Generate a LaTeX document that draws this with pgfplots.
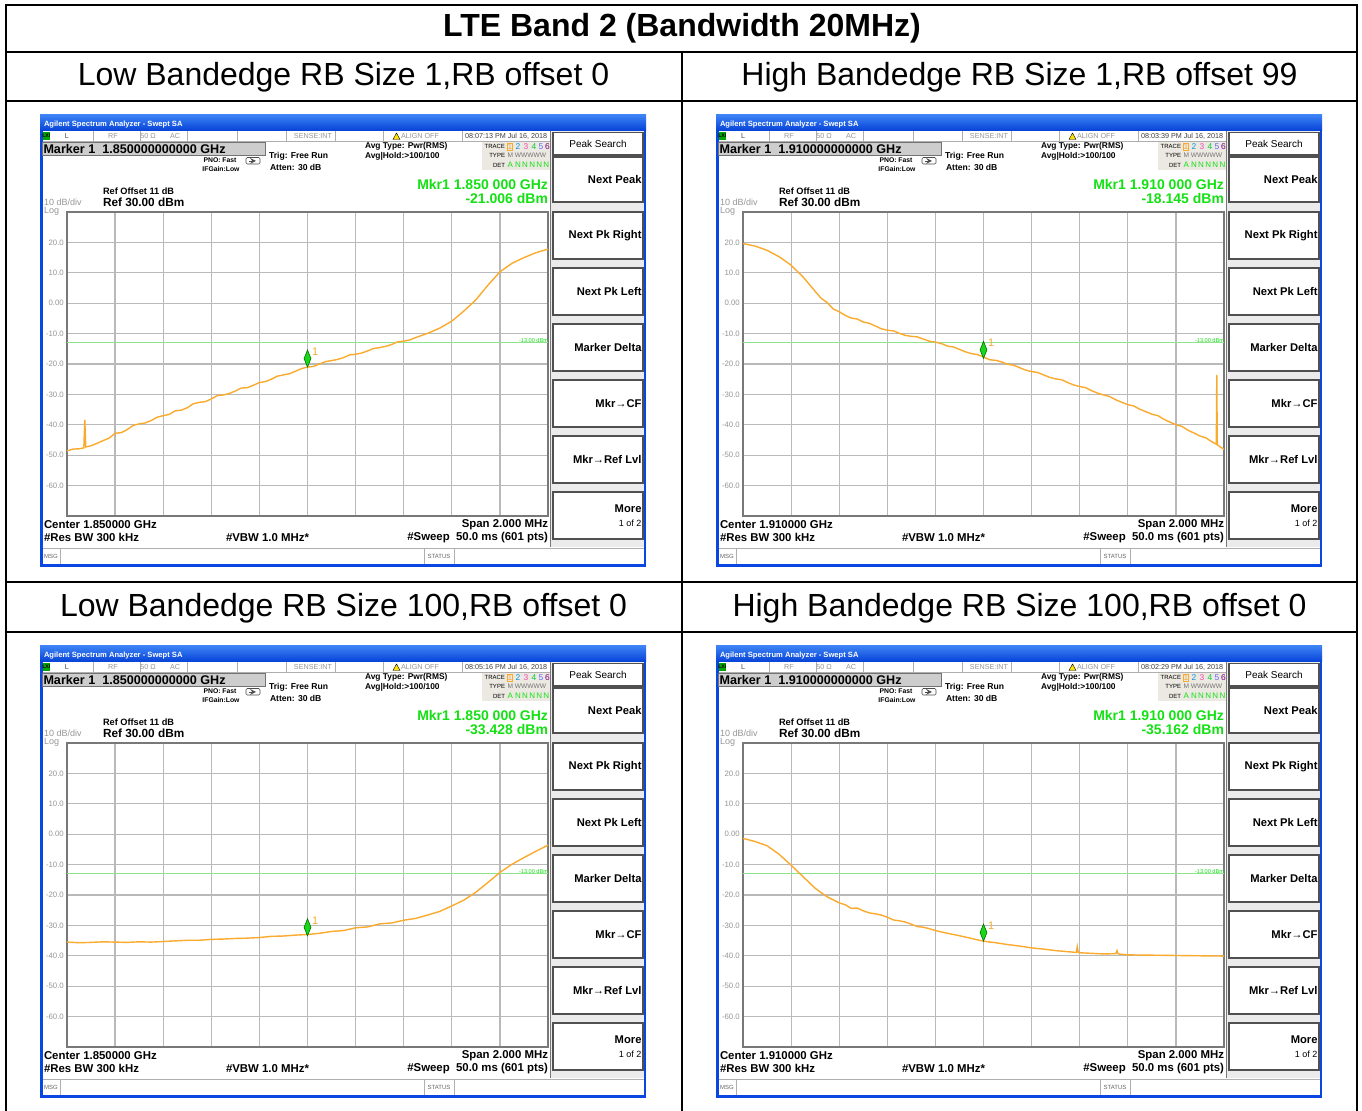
\documentclass[border=0pt]{standalone}
\usepackage{pgfplots}
\pgfplotsset{compat=1.18}
\usepackage{fontspec}
\setmainfont{Liberation Sans}
\definecolor{trace}{RGB}{250,170,45}
\definecolor{limgreen}{RGB}{140,228,140}
\definecolor{mkgreen}{RGB}{25,215,25}
\definecolor{mkdark}{RGB}{0,110,0}
\definecolor{txgreen}{RGB}{20,225,20}
\definecolor{gridgray}{RGB}{185,185,185}
\definecolor{framegray}{RGB}{120,120,120}
\definecolor{labgray}{RGB}{150,150,150}
\definecolor{winblue}{RGB}{10,70,225}
\definecolor{bartop}{RGB}{60,130,245}
\definecolor{barbot}{RGB}{5,65,215}
\definecolor{rowgray}{RGB}{175,175,175}
\definecolor{mkrbox}{RGB}{205,205,205}
\definecolor{btnedge}{RGB}{80,80,80}
\definecolor{menubg}{RGB}{235,235,235}
\definecolor{tracebox}{RGB}{236,233,226}
\newcommand\fs[1]{\fontsize{#1}{#1}\selectfont}
\tikzset{t/.style={inner sep=0pt,outer sep=0pt}}
\pgfplotsset{sa/.style={
  scale only axis, width=240.5pt, height=152pt, anchor=north west,
  ymin=-70, ymax=30, ytick={-60,-50,...,20},
  yticklabels={-60.0,-50.0,-40.0,-30.0,-20.0,-10.0,0.00,10.0,20.0},
  xticklabel=\empty,
  grid=major, major grid style={gridgray,line width=0.6pt},
  axis line style={framegray,line width=1pt},
  major tick length=0pt,
  yticklabel style={font=\fs{3.9},text=labgray,inner sep=0pt,xshift=-1.4pt},
  clip=false}}
\newcommand\btn[3]{\draw[btnedge,line width=0.55pt,fill=white] (513,#1) rectangle (603,#2);
  \node[t,anchor=east,font=\fs{5.6}\bfseries] at (601.5,{(#1+#2)/2}) {#3};}
\newcommand\panel[7]{%
\begin{scope}[shift={(#1,#2)}]
\fill[winblue] (0,0) rectangle (606,452);
\shade[top color=bartop,bottom color=barbot] (0,0) rectangle (606,16);
\fill[white] (2.5,16) rectangle (603.5,449.5);
\node[t,anchor=west,text=white,font=\fs{3.8}\bfseries] at (4,9.5) {Agilent Spectrum Analyzer - Swept SA};
\draw[rowgray,line width=0.3pt] (2.5,26)--(512,26);
\foreach \sx in {53,100,147,197,246,295,343,422}{\draw[rowgray,line width=0.3pt] (\sx,16)--(\sx,26);}
\fill[green!65!black] (2.5,17) rectangle (10,25);
\node[t,font=\fs{2.6}\bfseries] at (6.3,21) {LXI};
\node[t,font=\fs{3.6},text=black!70] at (27,21.3) {L};
\node[t,font=\fs{3.6},text=labgray] at (73,21.3) {RF};
\node[t,font=\fs{3.6},text=labgray] at (108,21.3) {50 Ω};
\node[t,font=\fs{3.6},text=labgray] at (135,21.3) {AC};
\node[t,anchor=east,font=\fs{3.6},text=labgray] at (292,21.3) {SENSE:INT};
\filldraw[fill=yellow!85!orange,draw=black,line width=0.2pt] (353,24.5)--(356.5,18)--(360,24.5)--cycle;
\node[t,anchor=west,font=\fs{3.6},text=labgray] at (361,21.3) {ALIGN OFF};
\node[t,anchor=west,font=\fs{3.6},text=black!75] at (425,21.3) {#7 Jul 16, 2018};
% marker box
\draw[black!55,fill=mkrbox,line width=0.4pt] (2,27.5) rectangle (225,40);
\node[t,anchor=west,font=\fs{6.3}\bfseries] at (3.5,34) {Marker 1\ \ #3 GHz};
\node[t,font=\fs{3.4}\bfseries] at (180,45) {PNO: Fast};
\node[t,font=\fs{3.4}\bfseries] at (181,54) {IFGain:Low};
\draw[black!70,line width=0.3pt,rounded corners=0.6pt] (206,42.5) rectangle (220,49);
\draw[black!70,line width=0.3pt,-stealth] (209,46)--(216,46);
\node[t,anchor=west,font=\fs{4.3}\bfseries] at (229,41.5) {Trig: Free Run};
\node[t,anchor=west,font=\fs{4.3}\bfseries] at (230,52.5) {Atten: 30 dB};
\node[t,anchor=west,font=\fs{4.2}\bfseries] at (325,31.5) {Avg Type: Pwr(RMS)};
\node[t,anchor=west,font=\fs{4.2}\bfseries] at (325,41.5) {Avg|Hold:>100/100};
% trace box
\fill[tracebox] (442,27) rectangle (510,55);
\node[t,anchor=east,font=\fs{3}] at (465,31.5) {TRACE};
\node[t,anchor=east,font=\fs{3}] at (465,40.5) {TYPE};
\node[t,anchor=east,font=\fs{3}] at (465,50) {DET};
\draw[trace,line width=0.3pt] (467.5,28) rectangle (472.5,35);
\node[t,font=\fs{4.2},text=trace] at (470,31.5) {1};
\node[t,font=\fs{4.2},text=cyan!80!blue] at (478,31.5) {2};
\node[t,font=\fs{4.2},text=magenta!70] at (486,31.5) {3};
\node[t,font=\fs{4.2},text=green!60!teal] at (494,31.5) {4};
\node[t,font=\fs{4.2},text=blue!60] at (501,31.5) {5};
\node[t,font=\fs{4.2},text=violet] at (507.5,31.5) {6};
\node[t,anchor=west,font=\fs{3.3},text=black!55] at (467.5,40.5) {M WWWWW};
\node[t,anchor=west,font=\fs{4},text=txgreen] at (467.5,50) {A\ N\,N\,N\,N\,N};
% ref texts
\node[t,anchor=west,font=\fs{4.6}\bfseries] at (63,76) {Ref Offset 11 dB};
\node[t,anchor=west,font=\fs{4.5},text=labgray] at (4,87.5) {10 dB/div};
\node[t,anchor=west,font=\fs{5.9}\bfseries] at (63,87.5) {Ref 30.00 dBm};
\node[t,anchor=west,font=\fs{4.5},text=labgray] at (4,96) {Log};
\node[t,anchor=east,font=\fs{7}\bfseries,text=txgreen] at (508,70) {Mkr1 #5 GHz};
\node[t,anchor=east,font=\fs{7}\bfseries,text=txgreen] at (508,84) {#6 dBm};
% bottom texts
\node[t,anchor=west,font=\fs{5.7}\bfseries] at (4,410) {Center #4 GHz};
\node[t,anchor=west,font=\fs{5.7}\bfseries] at (4,422.5) {\#Res BW 300 kHz};
\node[t,anchor=west,font=\fs{5.7}\bfseries] at (186,422.5) {\#VBW 1.0 MHz*};
\node[t,anchor=east,font=\fs{5.7}\bfseries] at (508,410) {Span 2.000 MHz};
\node[t,anchor=east,font=\fs{5.7}\bfseries] at (508,422.5) {\#Sweep\ \ 50.0 ms (601 pts)};
% msg bar
\draw[rowgray,line width=0.4pt] (2.5,433)--(603.5,433);
\foreach \sx in {20,384,414}{\draw[rowgray,line width=0.3pt] (\sx,433)--(\sx,449.5);}
\node[t,font=\fs{3},text=black!60] at (11,441) {MSG};
\node[t,font=\fs{3},text=black!60] at (399,441) {STATUS};
% menu
\fill[menubg] (510.5,16) rectangle (603.5,432);
\draw[framegray,line width=0.5pt] (510.5,16)--(510.5,432);
\draw[btnedge,line width=0.55pt,fill=white] (513,17.5) rectangle (603,40);
\node[t,font=\fs{5}] at (558,28.5) {Peak Search};
\btn{42}{87}{Next Peak}
\btn{97}{144}{Next Pk Right}
\btn{153}{200}{Next Pk Left}
\btn{209}{256}{Marker Delta}
\btn{265}{312}{Mkr→CF}
\btn{321}{368}{Mkr→Ref Lvl}
\draw[btnedge,line width=0.55pt,fill=white] (513,377) rectangle (603,424);
\node[t,anchor=east,font=\fs{5.6}\bfseries] at (601.5,393.5) {More};
\node[t,anchor=east,font=\fs{4.5}] at (601.5,408.5) {1 of 2};
\end{scope}}
\begin{document}
\begin{tikzpicture}[x=0.5pt,y=-0.5pt]
\path[use as bounding box] (0,0) rectangle (1362,1111);
% table
\draw[black,line width=1pt] (5.5,1111)--(5.5,5.5)--(1356.5,5.5)--(1356.5,1111);
\draw[black,line width=1pt] (5.5,52)--(1356.5,52);
\draw[black,line width=1pt] (5.5,101)--(1356.5,101);
\draw[black,line width=1pt] (5.5,582)--(1356.5,582);
\draw[black,line width=1pt] (5.5,632)--(1356.5,632);
\draw[black,line width=1pt] (682,52)--(682,1111);
\node[t,font=\fs{16}\bfseries] at (682,28.5) {LTE Band 2 (Bandwidth 20MHz)};
\node[t,font=\fs{16}] at (343.5,77) {Low Bandedge RB Size 1,RB offset 0};
\node[t,font=\fs{16}] at (1019.5,77) {High Bandedge RB Size 1,RB offset 99};
\node[t,font=\fs{16}] at (343.5,608) {Low Bandedge RB Size 100,RB offset 0};
\node[t,font=\fs{16}] at (1019.5,608) {High Bandedge RB Size 100,RB offset 0};
% panels
\panel{40}{115}{1.850000000000}{1.850000}{1.850 000}{-21.006}{08:07:13 PM}
\panel{716}{115}{1.910000000000}{1.910000}{1.910 000}{-18.145}{08:03:39 PM}
\panel{40}{646}{1.850000000000}{1.850000}{1.850 000}{-33.428}{08:05:16 PM}
\panel{716}{646}{1.910000000000}{1.910000}{1.910 000}{-35.162}{08:02:29 PM}
\coordinate (P1) at (67,212);
\coordinate (P2) at (743,212);
\coordinate (P3) at (67,743);
\coordinate (P4) at (743,743);
% ---------- TL
\begin{axis}[sa,at={(P1)},xmin=1849,xmax=1851,
  xtick={1849.2,1849.4,1849.6,1849.8,1850,1850.2,1850.4,1850.6,1850.8}]
\addplot[limgreen,line width=0.6pt] coordinates {(1849,-13) (1851,-13)};
\node[t,anchor=south east,font=\fs{2.8},text=txgreen,yshift=0.2pt] at (axis cs:1851,-13) {-13.00 dBm};
\addplot[trace,line width=0.7pt] table {
x y
1849.00 -48.6
1849.025 -48.0
1849.05 -47.9
1849.07 -47.6
1849.074 -38.4
1849.078 -47.3
1849.10 -46.9
1849.125 -46.1
1849.15 -45.2
1849.175 -44.4
1849.20 -42.8
1849.225 -42.6
1849.25 -41.6
1849.275 -40.2
1849.30 -39.7
1849.325 -39.4
1849.35 -38.6
1849.375 -37.5
1849.40 -37.0
1849.425 -36.6
1849.45 -35.4
1849.475 -35.2
1849.50 -34.4
1849.525 -33.1
1849.55 -32.6
1849.575 -32.4
1849.60 -31.5
1849.625 -30.4
1849.65 -30.2
1849.675 -29.7
1849.70 -28.9
1849.725 -27.9
1849.75 -27.8
1849.775 -27.0
1849.80 -26.1
1849.825 -25.8
1849.85 -25.0
1849.875 -24.0
1849.90 -23.6
1849.925 -23.2
1849.95 -22.4
1849.975 -21.5
1850.00 -21.0
1850.025 -20.8
1850.05 -20.0
1850.075 -19.2
1850.10 -18.9
1850.125 -18.5
1850.15 -17.9
1850.175 -17.0
1850.20 -16.8
1850.225 -16.4
1850.25 -15.7
1850.275 -14.9
1850.30 -14.6
1850.325 -14.2
1850.35 -13.6
1850.375 -12.7
1850.40 -12.5
1850.425 -12.1
1850.45 -11.3
1850.475 -10.6
1850.50 -9.9
1850.55 -8.2
1850.60 -5.9
1850.65 -2.6
1850.70 1.1
1850.75 5.9
1850.80 10.3
1850.85 13.1
1850.90 15.0
1850.95 16.6
1851.00 17.8
};
\addplot[only marks,mark=diamond*,mark size=2.3pt,mark options={fill=mkgreen,draw=mkdark,line width=0.3pt,yshift=4.25pt,yscale=1.85}] coordinates {(1850,-21.006)};
\node[t,text=trace,font=\fs{5.5},xshift=3.9pt,yshift=7.6pt] at (axis cs:1850,-21.006) {1};
\end{axis}
% ---------- TR
\begin{axis}[sa,at={(P2)},xmin=1909,xmax=1911,
  xtick={1909.2,1909.4,1909.6,1909.8,1910,1910.2,1910.4,1910.6,1910.8}]
\addplot[limgreen,line width=0.6pt] coordinates {(1909,-13) (1911,-13)};
\node[t,anchor=south east,font=\fs{2.8},text=txgreen,yshift=0.2pt] at (axis cs:1911,-13) {-13.00 dBm};
\addplot[trace,line width=0.7pt] table {
x y
1909.00 19.6
1909.05 18.8
1909.10 17.4
1909.15 15.3
1909.20 12.5
1909.25 8.6
1909.30 3.9
1909.325 1.6
1909.35 0.2
1909.375 -1.9
1909.40 -2.8
1909.425 -4.0
1909.45 -4.9
1909.475 -5.2
1909.50 -6.2
1909.525 -6.6
1909.55 -7.5
1909.575 -8.4
1909.60 -8.9
1909.625 -9.1
1909.65 -9.9
1909.675 -10.6
1909.70 -10.9
1909.725 -11.1
1909.75 -11.8
1909.775 -12.5
1909.80 -12.8
1909.825 -13.3
1909.85 -14.1
1909.875 -14.4
1909.90 -15.2
1909.925 -16.0
1909.95 -16.6
1909.975 -16.9
1910.00 -17.7
1910.025 -18.6
1910.05 -18.8
1910.075 -19.3
1910.10 -20.1
1910.125 -20.4
1910.15 -21.2
1910.175 -22.0
1910.20 -22.5
1910.225 -22.8
1910.25 -23.6
1910.275 -24.4
1910.30 -24.9
1910.325 -25.2
1910.35 -26.1
1910.375 -26.9
1910.40 -27.4
1910.425 -27.8
1910.45 -28.8
1910.475 -29.6
1910.50 -30.2
1910.525 -30.7
1910.55 -31.8
1910.575 -32.6
1910.60 -33.4
1910.625 -33.8
1910.65 -34.9
1910.675 -35.7
1910.70 -36.5
1910.725 -37.0
1910.75 -38.2
1910.775 -39.1
1910.80 -40.0
1910.825 -40.5
1910.85 -41.8
1910.875 -42.7
1910.90 -43.7
1910.925 -44.3
1910.95 -45.6
1910.968 -46.4
1910.970 -23.6
1910.972 -46.6
1910.985 -47.3
1911.00 -48.1
};
\addplot[only marks,mark=diamond*,mark size=2.3pt,mark options={fill=mkgreen,draw=mkdark,line width=0.3pt,yshift=4.25pt,yscale=1.85}] coordinates {(1910,-18.145)};
\node[t,text=trace,font=\fs{5.5},xshift=3.9pt,yshift=7.6pt] at (axis cs:1910,-18.145) {1};
\end{axis}
% ---------- BL
\begin{axis}[sa,at={(P3)},xmin=1849,xmax=1851,
  xtick={1849.2,1849.4,1849.6,1849.8,1850,1850.2,1850.4,1850.6,1850.8}]
\addplot[limgreen,line width=0.6pt] coordinates {(1849,-13) (1851,-13)};
\node[t,anchor=south east,font=\fs{2.8},text=txgreen,yshift=0.2pt] at (axis cs:1851,-13) {-13.00 dBm};
\addplot[trace,line width=0.7pt] table {
x y
1849.00 -35.5
1849.05 -35.7
1849.10 -35.6
1849.15 -35.4
1849.20 -35.5
1849.25 -35.6
1849.30 -35.4
1849.35 -35.5
1849.40 -35.3
1849.45 -35.1
1849.50 -34.9
1849.55 -34.9
1849.60 -34.6
1849.65 -34.5
1849.70 -34.3
1849.75 -34.2
1849.80 -34.0
1849.85 -33.6
1849.90 -33.5
1849.95 -33.2
1850.00 -33.0
1850.05 -32.6
1850.10 -32.0
1850.15 -31.7
1850.20 -30.8
1850.25 -30.5
1850.30 -29.5
1850.35 -29.2
1850.40 -28.3
1850.45 -27.7
1850.50 -26.6
1850.55 -25.4
1850.60 -23.6
1850.65 -21.7
1850.70 -19.1
1850.75 -15.9
1850.80 -12.6
1850.85 -9.9
1850.90 -7.7
1850.95 -5.6
1851.00 -3.6
};
\addplot[only marks,mark=diamond*,mark size=2.3pt,mark options={fill=mkgreen,draw=mkdark,line width=0.3pt,yshift=4.25pt,yscale=1.85}] coordinates {(1850,-33.428)};
\node[t,text=trace,font=\fs{5.5},xshift=3.9pt,yshift=7.6pt] at (axis cs:1850,-33.428) {1};
\end{axis}
% ---------- BR
\begin{axis}[sa,at={(P4)},xmin=1909,xmax=1911,
  xtick={1909.2,1909.4,1909.6,1909.8,1910,1910.2,1910.4,1910.6,1910.8}]
\addplot[limgreen,line width=0.6pt] coordinates {(1909,-13) (1911,-13)};
\node[t,anchor=south east,font=\fs{2.8},text=txgreen,yshift=0.2pt] at (axis cs:1911,-13) {-13.00 dBm};
\addplot[trace,line width=0.7pt] table {
x y
1909.00 -1.4
1909.05 -2.4
1909.10 -3.8
1909.15 -6.6
1909.20 -10.2
1909.25 -14.0
1909.30 -17.8
1909.35 -20.6
1909.40 -22.6
1909.425 -23.2
1909.45 -24.4
1909.475 -24.3
1909.50 -25.2
1909.525 -25.9
1909.55 -26.2
1909.575 -26.6
1909.60 -27.3
1909.625 -28.2
1909.65 -28.5
1909.675 -28.9
1909.70 -29.6
1909.725 -30.4
1909.75 -30.6
1909.775 -31.1
1909.80 -31.7
1909.85 -32.6
1909.90 -33.4
1909.95 -34.3
1910.00 -35.2
1910.05 -35.7
1910.10 -36.3
1910.15 -36.8
1910.20 -37.4
1910.25 -37.8
1910.30 -38.3
1910.386 -38.9
1910.390 -37.0
1910.394 -38.9
1910.40 -39.0
1910.50 -39.4
1910.55 -39.3
1910.555 -38.3
1910.56 -39.4
1910.60 -39.7
1910.70 -39.8
1910.80 -39.9
1910.90 -40.0
1911.00 -40.1
};
\addplot[only marks,mark=diamond*,mark size=2.3pt,mark options={fill=mkgreen,draw=mkdark,line width=0.3pt,yshift=4.25pt,yscale=1.85}] coordinates {(1910,-35.162)};
\node[t,text=trace,font=\fs{5.5},xshift=3.9pt,yshift=7.6pt] at (axis cs:1910,-35.162) {1};
\end{axis}
\end{tikzpicture}
\end{document}
